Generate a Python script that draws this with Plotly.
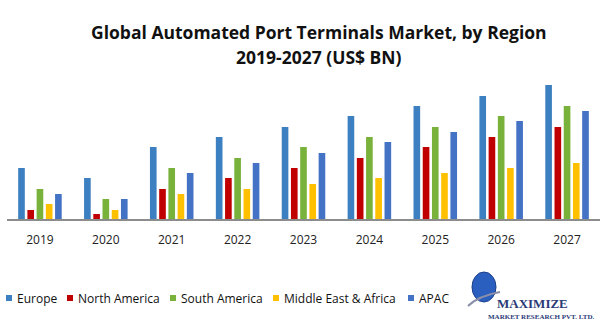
import plotly.graph_objects as go

years = ["2019", "2020", "2021", "2022", "2023", "2024", "2025", "2026", "2027"]
europe = [51, 41, 72, 82, 92, 103, 113, 123, 134]
north_america = [9, 5, 30, 41, 51, 61, 72, 82, 92]
south_america = [30, 20, 51, 61, 72, 82, 92, 103, 113]
mea = [15, 9, 25, 30, 35, 41, 46, 51, 56]
apac = [25, 20, 46, 56, 66, 77, 87, 98, 108]

series_names = ["Europe", "North America", "South America", "Middle East & Africa", "APAC"]
series_values = [europe, north_america, south_america, mea, apac]
series_colors = ["#3d80c2", "#c00000", "#79b23b", "#ffc000", "#4472c4"]

W, H = 603, 325
L, R, T, B = 7, 3, 70, 106
PW, PH = W - L - R, H - T - B


def px(x):
    return (x - L) / PW


def py(y):
    return (H - B - y) / PH


fig = go.Figure()
for name, vals, col in zip(series_names, series_values, series_colors):
    fig.add_trace(go.Bar(x=years, y=vals, name=name,
                         marker=dict(color=col, line=dict(width=0))))

fig.update_layout(
    width=W, height=H,
    margin=dict(l=L, r=R, t=T, b=B),
    paper_bgcolor="white", plot_bgcolor="white",
    barmode="group", bargap=0.3, bargroupgap=0.28,
    font=dict(family="Open Sans", color="#222222"),
    xaxis=dict(showline=True, linecolor="#8c8c8c", linewidth=2, ticks="",
               ticklabelstandoff=9,
               tickfont=dict(size=12, color="#222222"), showgrid=False),
    yaxis=dict(range=[0, PH], visible=False, showgrid=False),
    showlegend=False,
)

# title
fig.add_annotation(text="<b>Global Automated Port Terminals Market, by Region</b>",
                   xref="paper", yref="paper", x=px(319), y=py(32),
                   xanchor="center", yanchor="middle", showarrow=False,
                   font=dict(family="Open Sans", size=17.5, color="#111111"))
fig.add_annotation(text="<b>2019-2027 (US$ BN)</b>",
                   xref="paper", yref="paper", x=px(319), y=py(57),
                   xanchor="center", yanchor="middle", showarrow=False,
                   font=dict(family="Open Sans", size=17.5, color="#111111"))

# manual legend (small squares + labels)
legend_sq_x = [6, 67, 170, 273, 408]
legend_y = 298
for name, col, sx in zip(series_names, series_colors, legend_sq_x):
    fig.add_shape(type="rect", xref="paper", yref="paper",
                  x0=px(sx), x1=px(sx + 6), y0=py(legend_y + 3), y1=py(legend_y - 3),
                  fillcolor=col, line=dict(width=0))
    fig.add_annotation(text=name, xref="paper", yref="paper", x=px(sx + 9), y=py(legend_y),
                       xanchor="left", yanchor="middle", showarrow=False,
                       font=dict(family="Open Sans", size=12, color="#111111"))

# logo (approximation)
fig.add_shape(type="circle", xref="paper", yref="paper",
              x0=px(472), x1=px(496), y0=py(302), y1=py(272),
              fillcolor="#2a5fc0", line=dict(color="#1b3f8a", width=1))
fig.add_shape(type="path", xref="paper", yref="paper",
              path=f"M {px(468)},{py(306)} Q {px(478)},{py(296)} {px(500)},{py(292)}",
              line=dict(color="#8a8fa8", width=2))
fig.add_annotation(text="<b>MAXIMIZE</b>", xref="paper", yref="paper", x=px(495), y=py(303),
                   xanchor="left", yanchor="middle", showarrow=False,
                   font=dict(family="Liberation Serif", size=13, color="#2b3b78"))
fig.add_annotation(text="<b>MARKET RESEARCH PVT. LTD.</b>", xref="paper", yref="paper", x=px(597), y=py(317),
                   xanchor="right", yanchor="middle", showarrow=False,
                   font=dict(family="Liberation Serif", size=7, color="#2b3b78"))

fig.write_html("out.html")
